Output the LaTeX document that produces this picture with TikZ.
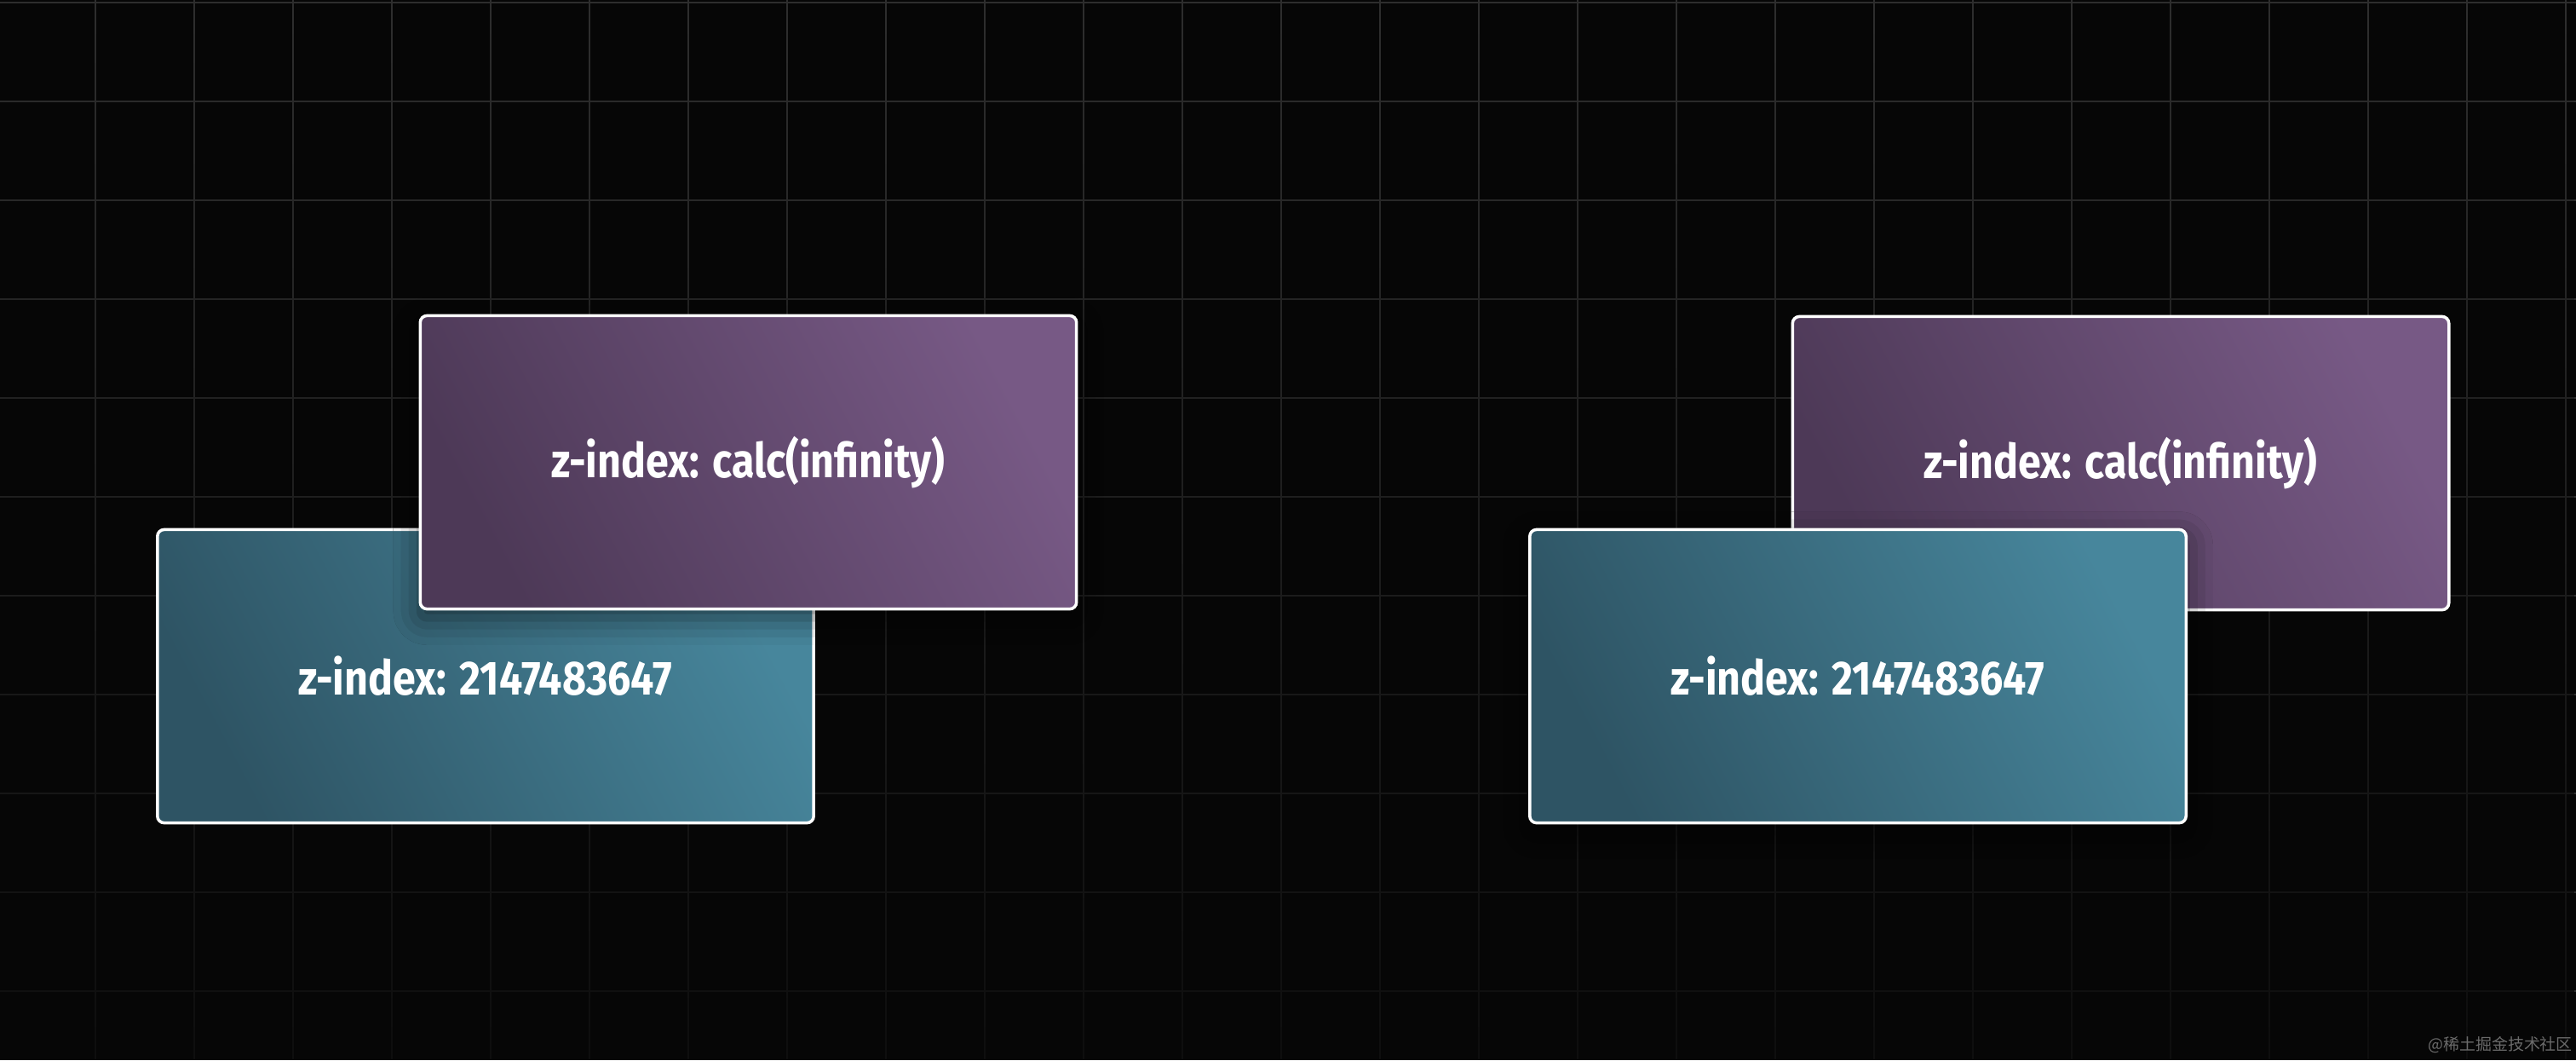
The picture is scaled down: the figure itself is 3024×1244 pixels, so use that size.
\documentclass[tikz,border=0pt]{standalone}
\usepackage{fontspec}
\setmainfont{Fira Sans}
\newfontfamily\cjkfont{Noto Sans CJK SC}
\usepackage{graphicx}
\usetikzlibrary{fadings,shadows.blur}
\definecolor{bg}{HTML}{060606}
\definecolor{gridc}{HTML}{2E2E2E}
\definecolor{purpDark}{HTML}{4D3957}
\definecolor{purpLight}{HTML}{775985}
\definecolor{tealDark}{HTML}{2E5464}
\definecolor{tealLight}{HTML}{47869C}
\definecolor{wmc}{HTML}{6A6A6A}
\tikzfading[name=gridfade, top color=transparent!100, bottom color=transparent!0]
\begin{document}
\begin{tikzpicture}[x=0.01cm, y=-0.01cm,
  gridline/.style={draw=gridc, line width=0.015cm},
  card/.style={draw=white, line width=0.035cm, rounded corners=0.08cm,
    minimum width=7.70cm, minimum height=3.44cm, text=white, inner sep=0pt,
    font=\bfseries\fontsize{16}{19}\selectfont},
  purplecard/.style={card, left color=purpDark, right color=purpLight, shading angle=118},
  tealcard/.style={card, left color=tealDark, right color=tealLight, shading angle=118},
  topshadow/.style={blur shadow={shadow xshift=0pt, shadow yshift=-3pt,
    shadow blur radius=9pt, shadow opacity=55}},
  wmark/.style={text=wmc, font=\cjkfont\fontsize{5.4}{6}\selectfont, inner sep=0pt}
]
\useasboundingbox (0,0) rectangle (3024,1244);
\fill[bg] (0,0) rectangle (3024,1244);
% grid
\foreach \x in {112,228,...,3020} \draw[gridline] (\x,0) -- (\x,1244);
\foreach \y in {3,119,...,1244} \draw[gridline] (0,\y) -- (3024,\y);
\fill[bg, path fading=gridfade, fill opacity=0.8] (0,0) rectangle (3024,1244);
% left pair: purple on top
\node[tealcard] (tealL) at (570,793.5) {\scalebox{0.86}[1]{z-index: 2147483647}};
\node[purplecard, topshadow] (purpL) at (878.5,542.5) {\scalebox{0.86}[1]{z-index: calc(infinity)}};
% right pair: teal on top
\node[purplecard] (purpR) at (2489.5,543.5) {\scalebox{0.86}[1]{z-index: calc(infinity)}};
\node[tealcard, topshadow] (tealR) at (2181,793.5) {\scalebox{0.86}[1]{z-index: 2147483647}};
% watermark
\node[wmark] (wm) at (2935,1226) {@稀土掘金技术社区};
\end{tikzpicture}
\end{document}
